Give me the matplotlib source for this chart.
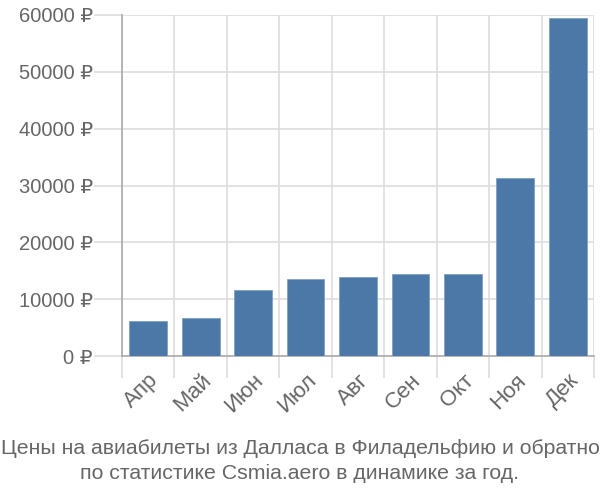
import numpy as np
import matplotlib
matplotlib.use('Agg')
import matplotlib.pyplot as plt

plt.rcParams['font.family'] = ['Liberation Sans', 'DejaVu Sans']

# данные
months = ['Апр', 'Май', 'Июн', 'Июл', 'Авг', 'Сен', 'Окт', 'Ноя', 'Дек']
prices = [6100, 6600, 11700, 13500, 13950, 14350, 14350, 31300, 59400]
yticks = [0, 10000, 20000, 30000, 40000, 50000, 60000]
title = 'Цены на авиабилеты из Далласа в Филадельфию и обратно\nпо статистике Csmia.aero в динамике за год.'

grid_c = '#dddddd'
text_c = '#666666'

fig = plt.figure(figsize=(6, 5), dpi=100)
ax = fig.add_axes([122/600, 1-356/500, (594-122)/600, (356-15)/500])

x = np.arange(len(months))
ax.bar(x, prices, width=0.72, color='#4c78a8', edgecolor='#7f9fc4', linewidth=0.6, zorder=3)

ax.set_xlim(-0.5, len(months)-0.5)
ax.set_ylim(0, 60000)

ax.set_yticks(yticks)
ax.set_yticklabels([f'{v} ₽' for v in yticks])
ax.set_xticks(x)
ax.set_xticklabels(months, rotation=45, ha='right', rotation_mode='anchor')
ax.set_xticks(np.arange(len(months)+1)-0.5, minor=True)

ax.tick_params(axis='y', length=20, width=1.2, color=grid_c, labelsize=14.5, labelcolor=text_c, pad=1)
ax.tick_params(axis='x', which='major', length=0, labelsize=16, labelcolor=text_c, pad=10)
ax.tick_params(axis='x', which='minor', length=16, width=1.2, color=grid_c)

ax.grid(axis='y', color=grid_c, linewidth=1.2, zorder=0)
ax.grid(axis='x', which='minor', color=grid_c, linewidth=1.2, zorder=0)

for s in ['top', 'right']:
    ax.spines[s].set_visible(False)
ax.spines['left'].set_color('#aaaaaa')
ax.spines['left'].set_linewidth(1.2)
ax.spines['bottom'].set_color('#aaaaaa')
ax.spines['bottom'].set_linewidth(1.2)

fig.text(0.5, 1-461/500, title, ha='center', va='center', fontsize=15.3, color=text_c, linespacing=1.4)

fig.savefig('out.png', dpi=100)
